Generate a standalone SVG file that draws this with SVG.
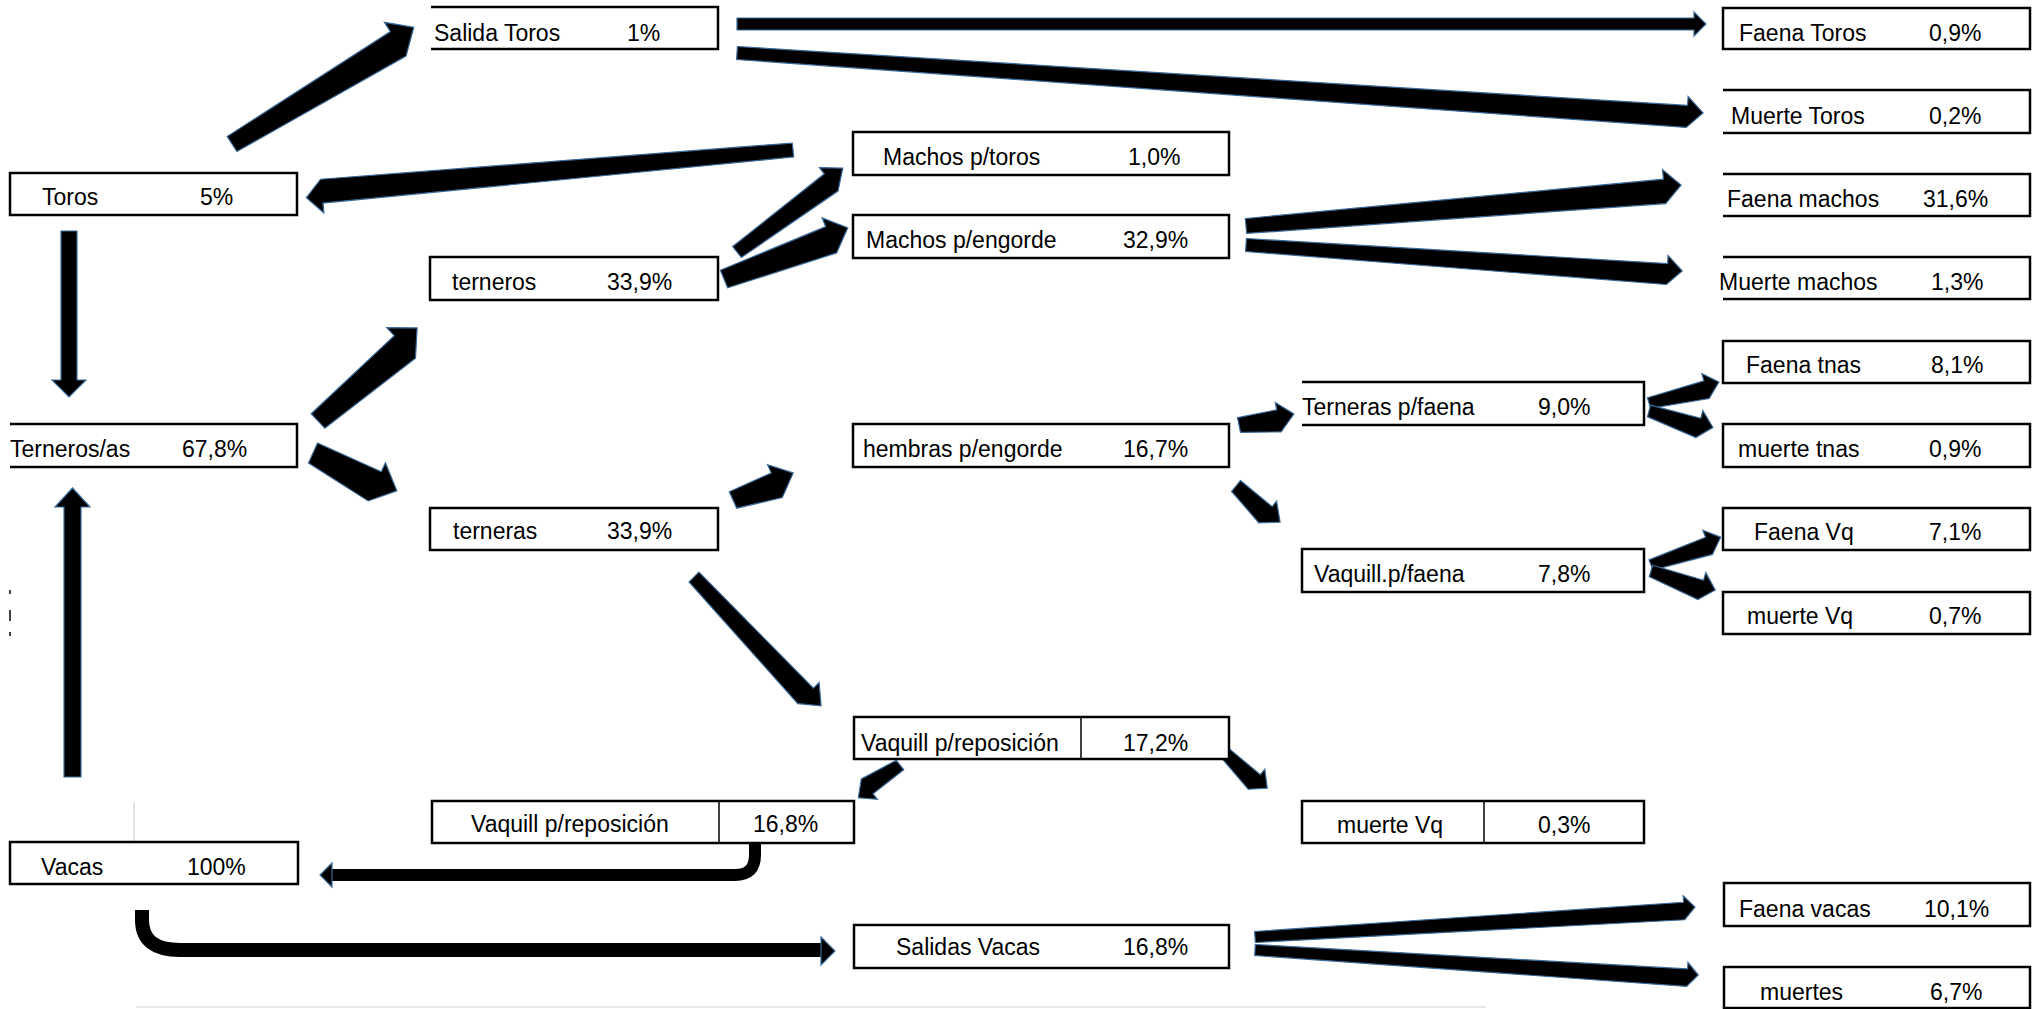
<svg xmlns="http://www.w3.org/2000/svg" width="2044" height="1009" viewBox="0 0 2044 1009">
<style>
.bx{fill:#fff;stroke:#000;stroke-width:2.5}
.ln{fill:none;stroke:#000;stroke-width:2.5}
.dv{stroke:#000;stroke-width:1.5}
.t{font-family:"Liberation Sans",Arial,sans-serif;font-size:23px;fill:#000}
.ar{fill:#000;stroke:#3a6a9a;stroke-width:1.2;stroke-linejoin:miter}
.cv{fill:none;stroke:#000;stroke-linecap:butt}
.gr{stroke:#d0d0d0;stroke-width:1.2}
</style>
<defs>
<clipPath id="clipMM"><rect x="1700" y="255" width="181" height="50"/></clipPath>
</defs>
<rect width="2044" height="1009" fill="#fff"/>
<g id="background-lines">
<line class="gr" x1="134" y1="802" x2="134" y2="842"/>
<line class="gr" x1="136" y1="1007" x2="1486" y2="1007"/>
<line x1="10" y1="590" x2="10" y2="594" stroke="#000" stroke-width="1.5"/>
<line x1="10" y1="610" x2="10" y2="621" stroke="#000" stroke-width="1.5"/>
<line x1="10" y1="632" x2="10" y2="636" stroke="#000" stroke-width="1.5"/>
</g>
<g id="connectors">
<polygon class="ar" transform="translate(232 144) rotate(-32.7)" points="0,-9 194,-9 194,-20 216,0 194,20 0,9"/>
<polygon class="ar" transform="translate(793 150) rotate(174.4)" points="0,-7 473,-7 473,-17 489,0 473,17 0,7"/>
<polygon class="ar" points="61,231 77,231 77,380 86,380 69,397 52,380 61,380"/>
<polygon class="ar" points="64,777 81,777 81,507 90,507 72.5,488 55,507 64,507"/>
<polygon class="ar" transform="translate(318 421) rotate(-43.2)" points="0,-10 114,-10 114,-21 136,0 114,21 0,10"/>
<polygon class="ar" transform="translate(313 453) rotate(24.3)" points="0,-11 70,-11 70,-21 92,0 70,21 0,11"/>
<polygon class="ar" transform="translate(737 252) rotate(-38.4)" points="0,-7 117,-7 117,-15 135,0 117,15 0,7"/>
<polygon class="ar" transform="translate(724 279) rotate(-22.5)" points="0,-9.5 114,-9.5 114,-19 134,0 114,19 0,9.5"/>
<polygon class="ar" points="737,18 1694,18 1694,12 1706,24 1694,36 1694,30 737,30"/>
<polygon class="ar" transform="translate(737 53) rotate(3.55)" points="0,-6.5 952,-6.5 952,-15.5 968,0 952,15.5 0,6.5"/>
<polygon class="ar" transform="translate(1246 226) rotate(-5.38)" points="0,-7.5 420,-7.5 420,-17 437,0 420,17 0,7.5"/>
<polygon class="ar" transform="translate(1246 245) rotate(3.4)" points="0,-6.5 422,-6.5 422,-14.5 437,0 422,14.5 0,6.5"/>
<polygon class="ar" transform="translate(1239 425) rotate(-11.3)" points="0,-7.5 40,-7.5 40,-15 56,0 40,15 0,7.5"/>
<polygon class="ar" transform="translate(1236 486) rotate(39.3)" points="0,-7 41,-7 41,-14 57,0 41,14 0,7"/>
<polygon class="ar" transform="translate(1649 403) rotate(-16.7)" points="0,-5.5 59,-5.5 59,-13 73,0 59,13 0,5.5"/>
<polygon class="ar" transform="translate(1649 411) rotate(14.5)" points="0,-6 52,-6 52,-14 66,0 52,14 0,6"/>
<polygon class="ar" transform="translate(1651 565) rotate(-21.8)" points="0,-5.5 61,-5.5 61,-13 75,0 61,13 0,5.5"/>
<polygon class="ar" transform="translate(1651 571) rotate(16.5)" points="0,-6 53,-6 53,-14 67,0 53,14 0,6"/>
<polygon class="ar" transform="translate(733 500) rotate(-24.2)" points="0,-9 46,-9 46,-18 66,0 46,18 0,9"/>
<polygon class="ar" transform="translate(694 577) rotate(45.4)" points="0,-7 163,-7 163,-15 181,0 163,15 0,7"/>
<polygon class="ar" transform="translate(900 765) rotate(141.8)" points="0,-6 39,-6 39,-13 53,0 39,13 0,6"/>
<polygon class="ar" transform="translate(1225 753) rotate(39.8)" points="0,-6 41,-6 41,-13 55,0 41,13 0,6"/>
<polygon class="ar" transform="translate(1255 937) rotate(-3.9)" points="0,-5.5 430,-5.5 430,-12 441,0 430,12 0,5.5"/>
<polygon class="ar" transform="translate(1255 950) rotate(3.23)" points="0,-5.5 433,-5.5 433,-12 444,0 433,12 0,5.5"/>
<path class="cv" d="M755,843 V855 Q755,875 735,875 H331" stroke-width="12"/>
<polygon class="ar" points="332,863 320,875 332,887"/>
<path class="cv" d="M142,910 V920 Q142,950 180,950 H822" stroke-width="14"/>
<polygon class="ar" points="821,937 835,951 821,965"/>
</g>
<g id="salida-toros"><path class="ln" d="M431,7 H718 V49 H431"/><text class="t" x="434" y="41">Salida Toros</text><text class="t" x="627" y="41">1%</text></g>
<g id="faena-toros"><rect class="bx" x="1723" y="8" width="307" height="41"/><text class="t" x="1739" y="41">Faena Toros</text><text class="t" x="1929" y="41">0,9%</text></g>
<g id="muerte-toros"><path class="ln" d="M1723,90 H2030 V133 H1723"/><text class="t" x="1731" y="124">Muerte Toros</text><text class="t" x="1929" y="124">0,2%</text></g>
<g id="machos-toros"><rect class="bx" x="853" y="132" width="376" height="43"/><text class="t" x="883" y="165">Machos p/toros</text><text class="t" x="1128" y="165">1,0%</text></g>
<g id="toros"><rect class="bx" x="10" y="173" width="287" height="42"/><text class="t" x="42" y="205">Toros</text><text class="t" x="200" y="205">5%</text></g>
<g id="faena-machos"><path class="ln" d="M1723,174 H2030 V216 H1723"/><text class="t" x="1727" y="207">Faena machos</text><text class="t" x="1923" y="207">31,6%</text></g>
<g id="machos-engorde"><rect class="bx" x="853" y="215" width="376" height="43"/><text class="t" x="866" y="248">Machos p/engorde</text><text class="t" x="1123" y="248">32,9%</text></g>
<g id="terneros"><rect class="bx" x="430" y="257" width="288" height="43"/><text class="t" x="452" y="290">terneros</text><text class="t" x="607" y="290">33,9%</text></g>
<g id="muerte-machos"><path class="ln" d="M1723,257 H2030 V299 H1723"/><text class="t" x="1719" y="290" clip-path="url(#clipMM)">Muerte machos</text><text class="t" x="1931" y="290">1,3%</text></g>
<g id="faena-tnas"><rect class="bx" x="1723" y="341" width="307" height="42"/><text class="t" x="1746" y="373">Faena tnas</text><text class="t" x="1931" y="373">8,1%</text></g>
<g id="terneras-faena"><path class="ln" d="M1302,382 H1644 V425 H1302"/><text class="t" x="1302" y="415">Terneras p/faena</text><text class="t" x="1538" y="415">9,0%</text></g>
<g id="terneros-as"><path class="ln" d="M10,424 H297 V467 H10"/><text class="t" x="10" y="457">Terneros/as</text><text class="t" x="182" y="457">67,8%</text></g>
<g id="hembras-engorde"><rect class="bx" x="853" y="424" width="376" height="43"/><text class="t" x="863" y="457">hembras p/engorde</text><text class="t" x="1123" y="457">16,7%</text></g>
<g id="muerte-tnas"><rect class="bx" x="1723" y="424" width="307" height="43"/><text class="t" x="1738" y="457">muerte tnas</text><text class="t" x="1929" y="457">0,9%</text></g>
<g id="terneras"><rect class="bx" x="430" y="508" width="288" height="42"/><text class="t" x="453" y="539">terneras</text><text class="t" x="607" y="539">33,9%</text></g>
<g id="faena-vq"><rect class="bx" x="1723" y="508" width="307" height="42"/><text class="t" x="1754" y="540">Faena Vq</text><text class="t" x="1929" y="540">7,1%</text></g>
<g id="vaquill-faena"><rect class="bx" x="1302" y="549" width="342" height="43"/><text class="t" x="1314" y="582">Vaquill.p/faena</text><text class="t" x="1538" y="582">7,8%</text></g>
<g id="muerte-vq-07"><rect class="bx" x="1723" y="592" width="307" height="42"/><text class="t" x="1747" y="624">muerte Vq</text><text class="t" x="1929" y="624">0,7%</text></g>
<g id="vaquill-repo-172"><rect class="bx" x="854" y="717" width="375" height="42"/><line class="dv" x1="1081" y1="717" x2="1081" y2="759"/><text class="t" x="861" y="751">Vaquill p/reposición</text><text class="t" x="1123" y="751">17,2%</text></g>
<g id="vaquill-repo-168"><rect class="bx" x="432" y="801" width="422" height="42"/><line class="dv" x1="719" y1="801" x2="719" y2="843"/><text class="t" x="471" y="832">Vaquill p/reposición</text><text class="t" x="753" y="832">16,8%</text></g>
<g id="muerte-vq-03"><rect class="bx" x="1302" y="801" width="342" height="42"/><line class="dv" x1="1484" y1="801" x2="1484" y2="843"/><text class="t" x="1337" y="833">muerte Vq</text><text class="t" x="1538" y="833">0,3%</text></g>
<g id="vacas"><rect class="bx" x="10" y="842" width="288" height="42"/><text class="t" x="41" y="875">Vacas</text><text class="t" x="187" y="875">100%</text></g>
<g id="faena-vacas"><rect class="bx" x="1724" y="883" width="306" height="43"/><text class="t" x="1739" y="917">Faena vacas</text><text class="t" x="1924" y="917">10,1%</text></g>
<g id="salidas-vacas"><rect class="bx" x="854" y="925" width="375" height="43"/><text class="t" x="896" y="955">Salidas Vacas</text><text class="t" x="1123" y="955">16,8%</text></g>
<g id="muertes"><rect class="bx" x="1724" y="967" width="306" height="41"/><text class="t" x="1760" y="1000">muertes</text><text class="t" x="1930" y="1000">6,7%</text></g>
</svg>
